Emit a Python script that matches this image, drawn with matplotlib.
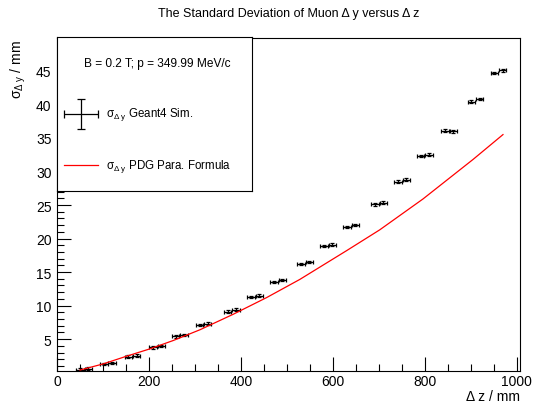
import numpy as np
import matplotlib
matplotlib.use('Agg')
import matplotlib.pyplot as plt
from matplotlib.ticker import MultipleLocator

plt.rcParams['font.family'] = ['Liberation Sans', 'DejaVu Sans']
plt.rcParams['mathtext.fontset'] = 'custom'
plt.rcParams['mathtext.rm'] = 'Liberation Sans'
plt.rcParams['mathtext.it'] = 'Liberation Sans'

# Geant4 simulation points (two per step)
dz_sim = [50, 68, 102, 120, 155, 173, 209, 227, 258, 276, 310, 328,
          371, 389, 422, 440, 472, 490, 531, 549, 581, 599, 631, 649,
          692, 710, 742, 760, 791, 809, 844, 862, 901, 919, 951, 969]
sig_sim = [0.45, 0.6, 1.3, 1.45, 2.4, 2.55, 3.8, 4.0, 5.4, 5.6, 7.1, 7.3,
           9.1, 9.4, 11.3, 11.5, 13.5, 13.8, 16.2, 16.5, 18.9, 19.1, 21.7, 22.0,
           25.1, 25.35, 28.5, 28.8, 32.3, 32.5, 36.1, 36.0, 40.4, 40.8, 44.7, 45.1]
dz_err = [8] * len(dz_sim)
sig_err = [0.2] * len(dz_sim)

# PDG parametrisation curve
dz_pdg = [50, 100, 151, 202, 253, 311, 383, 456, 528, 630, 702, 796, 905, 970]
sig_pdg = [0.39, 1.3, 2.45, 3.55, 4.8, 6.4, 8.7, 11.2, 13.9, 18.2, 21.3, 25.9, 31.8, 35.5]

W, H = 539, 410
fig = plt.figure(figsize=(W / 100, H / 100), dpi=100)
ax = fig.add_axes([57 / W, 1 - 372 / H, (520 - 57) / W, (372 - 39) / H])

ax.errorbar(dz_sim, sig_sim, xerr=dz_err, yerr=sig_err, fmt='none',
            ecolor='black', elinewidth=0.9, capsize=1.5, capthick=0.9)
ax.plot(dz_pdg, sig_pdg, color='red', lw=0.9)

ax.set_xlim(0, 1007)
ax.set_ylim(0.25, 49.9)
ax.xaxis.set_major_locator(MultipleLocator(200))
ax.xaxis.set_minor_locator(MultipleLocator(50))
ax.yaxis.set_major_locator(MultipleLocator(5))
ax.yaxis.set_minor_locator(MultipleLocator(1))
ax.tick_params(which='both', direction='in', top=False, right=False,
               labelsize=10, width=0.8)
ax.tick_params(which='major', length=10)
ax.tick_params(axis='x', which='major', pad=2)
ax.tick_params(axis='y', which='major', pad=4)
ax.tick_params(which='minor', length=5)
for s in ax.spines.values():
    s.set_linewidth(0.8)

fig.text(0.5 * (57 + 520) / W, 1 - 14 / H,
         'The Standard Deviation of Muon \u0394 y versus \u0394 z',
         ha='center', va='center', fontsize=9)
fig.text(18 / W, 1 - 40 / H, r'$\mathregular{\sigma_{\Delta\ y}}$ / mm',
         rotation=90, ha='center', va='top', fontsize=10)
fig.text(520 / W, 1 - 397 / H, '\u0394 z / mm', ha='right', va='center',
         fontsize=10)

# legend box
lg = fig.add_axes([57.3 / W, 1 - 191.7 / H, (251.7 - 57.3) / W, (191.7 - 38.3) / H])
lg.set_xlim(0, 1)
lg.set_ylim(0, 1)
lg.set_xticks([])
lg.set_yticks([])
for s in lg.spines.values():
    s.set_linewidth(0.8)
lg.text(0.512, 0.83, 'B = 0.2 T; p = 349.99 MeV/c', ha='center', va='center',
        fontsize=8.6)
lg.errorbar([0.123], [0.50], xerr=[0.088], yerr=[0.098], fmt='none',
            ecolor='black', elinewidth=0.9, capsize=3, capthick=0.9)
lg.text(0.251, 0.50, r'$\mathregular{\sigma_{\Delta\ y}}$ Geant4 Sim.',
        ha='left', va='center', fontsize=8.3)
lg.plot([0.035, 0.21], [0.167, 0.167], color='red', lw=0.9)
lg.text(0.251, 0.167, r'$\mathregular{\sigma_{\Delta\ y}}$ PDG Para. Formula',
        ha='left', va='center', fontsize=8.3)

fig.savefig('out.png', dpi=100)
